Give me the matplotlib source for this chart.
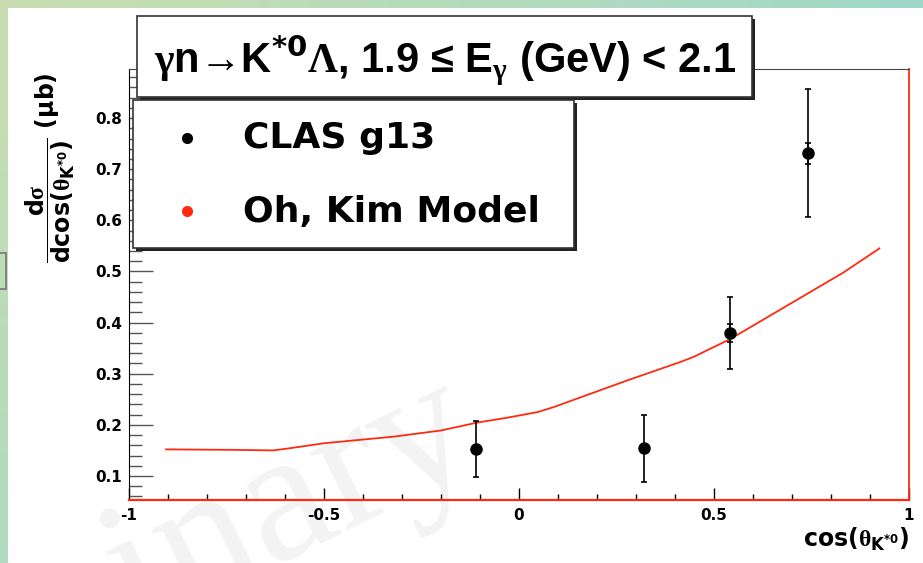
import matplotlib
matplotlib.use("Agg")
import matplotlib.pyplot as plt
from matplotlib.patches import Rectangle
from matplotlib.lines import Line2D
from matplotlib.ticker import MultipleLocator, FormatStrFormatter
import numpy as np

# CLAS g13 data points (cos theta, dsigma/dcos in microbarn)
clas_cos = [-0.11, 0.32, 0.54, 0.74]
clas_xsec = [0.153, 0.154, 0.380, 0.731]
clas_err_tot = [0.055, 0.065, 0.071, 0.125]
clas_err_stat = [0.006, 0.006, 0.018, 0.021]

# Oh, Kim model curve
model_cos = [-0.905, -0.72, -0.63, -0.59, -0.50, -0.32, -0.20, -0.11, -0.03,
             0.048, 0.09, 0.184, 0.278, 0.414, 0.448, 0.542, 0.832, 0.924]
model_xsec = [0.152, 0.151, 0.150, 0.154, 0.164, 0.177, 0.189, 0.204, 0.214,
              0.225, 0.235, 0.261, 0.287, 0.323, 0.333, 0.368, 0.498, 0.545]

x_ticks = [-1, -0.5, 0, 0.5, 1]
x_tick_labels = ["-1", "-0.5", "0", "0.5", "1"]
y_ticks = [0.1, 0.2, 0.3, 0.4, 0.5, 0.6, 0.7, 0.8]

W, H = 923, 563
RED = "#ff2a10"

plt.rcParams['font.family'] = ['DejaVu Sans']
plt.rcParams['font.weight'] = 'bold'
plt.rcParams['mathtext.fontset'] = 'custom'
plt.rcParams['mathtext.rm'] = 'DejaVu Sans:bold'
plt.rcParams['mathtext.bf'] = 'DejaVu Sans:bold'
plt.rcParams['mathtext.sf'] = 'Liberation Serif'
plt.rcParams['mathtext.it'] = 'DejaVu Sans:bold'


def fx(px):
    return px / W


def fy(py):
    return 1 - py / H


fig = plt.figure(figsize=(W / 100, H / 100), dpi=100)
fig.patch.set_facecolor("white")

# slide background strips
top = fig.add_axes([0, fy(8), 1, 8 / H])
top.imshow(np.linspace(0, 1, 256).reshape(1, -1), aspect='auto',
           cmap=matplotlib.colors.LinearSegmentedColormap.from_list("t", ["#cadeb0", "#9fd8c8"]))
top.axis('off')
left = fig.add_axes([0, 0, 8 / W, 1])
left.imshow(np.linspace(0, 1, 256).reshape(-1, 1), aspect='auto',
            cmap=matplotlib.colors.LinearSegmentedColormap.from_list("l", ["#cadeb0", "#b0dac0"]))
left.axis('off')
fig.add_artist(Rectangle((fx(-2), fy(289)), fx(8), 36 / H, transform=fig.transFigure,
                         fill=False, edgecolor="#777777", lw=1.2))

# faint watermark
fig.text(fx(485), fy(460), "Preliminary", rotation=26, rotation_mode='anchor',
         ha='right', va='baseline', fontsize=135, family='Liberation Serif',
         fontweight='normal', color='#f3f3f3', zorder=0)

ax = fig.add_axes([fx(129), fy(500), 780 / W, 431 / H])
ax.set_facecolor('none')
ax.set_zorder(2)

ax.plot(model_cos, model_xsec, color=RED, lw=1.3)
ax.errorbar(clas_cos, clas_xsec, yerr=clas_err_tot, fmt='o', color='black',
            ms=8, capsize=2.5, elinewidth=1.2, capthick=1.2)
ax.errorbar(clas_cos, clas_xsec, yerr=clas_err_stat, fmt='none', color='black',
            capsize=2.5, elinewidth=1.2, capthick=1.2)

ax.set_xlim(-1, 1)
ax.set_ylim(0.053, 0.896)
ax.set_xticks(x_ticks)
ax.set_xticklabels(x_tick_labels)
ax.set_yticks(y_ticks)
ax.xaxis.set_minor_locator(MultipleLocator(0.1))
ax.yaxis.set_minor_locator(MultipleLocator(0.02))
ax.yaxis.set_major_formatter(FormatStrFormatter('%.1f'))
ax.tick_params(axis='x', which='major', direction='in', length=8.6, width=1, labelsize=11, pad=6)
ax.tick_params(axis='x', which='minor', direction='in', length=4.3, width=1)
ax.tick_params(axis='y', which='major', direction='in', length=17, width=1, labelsize=11, pad=5, color='#555555')
ax.tick_params(axis='y', which='minor', direction='in', length=9, width=1, color='#555555')
ax.spines['left'].set_color('black')
ax.spines['bottom'].set_color(RED)
ax.spines['bottom'].set_linewidth(1.6)
ax.spines['right'].set_color(RED)
ax.spines['right'].set_linewidth(1.3)
ax.spines['top'].set_color('#444444')

# axis titles
fig.text(fx(910), fy(547), r"cos($\mathsf{\theta}_{\mathrm{K}^{*0}}$)", ha='right', va='baseline',
         fontsize=17)
fig.text(fx(50), fy(168),
         r"$\dfrac{\mathrm{d}\mathsf{\sigma}}{\mathrm{dcos}(\mathsf{\theta}_{\mathrm{K}^{*0}})}$ (μb)",
         rotation=90, ha='center', va='center', fontsize=17)


def box(x0, y0, x1, y1, z):
    fig.add_artist(Rectangle((fx(x0 + 3), fy(y1 + 3)), fx(x1 - x0), (y1 - y0) / H,
                             transform=fig.transFigure, facecolor='#222222',
                             edgecolor='none', zorder=z))
    fig.add_artist(Rectangle((fx(x0), fy(y1)), fx(x1 - x0), (y1 - y0) / H,
                             transform=fig.transFigure, facecolor='white',
                             edgecolor='#333333', lw=1.2, zorder=z + 0.1))


# title box
box(137, 16, 752, 97, 5)
fig.text(fx(445), fy(73), r"$\mathsf{\gamma}$n→K$^{*0}$$\mathsf{\Lambda}$, 1.9 ≤ E$_{\mathsf{\gamma}}$ (GeV) < 2.1",
         ha='center', va='baseline', fontsize=30, family=['Liberation Sans', 'DejaVu Sans'], zorder=6)

# legend box
box(133, 100, 574, 248, 7)
fig.add_artist(Line2D([fx(187)], [fy(138)], marker='o', ms=7, color='black',
                      transform=fig.transFigure, zorder=8))
fig.add_artist(Line2D([fx(187)], [fy(211)], marker='o', ms=7, color=RED,
                      transform=fig.transFigure, zorder=8))
fig.text(fx(243), fy(148), "CLAS g13", ha='left', va='baseline', fontsize=26, zorder=8)
fig.text(fx(243), fy(222), "Oh, Kim Model", ha='left', va='baseline', fontsize=26, zorder=8)

fig.savefig("out.png", dpi=100)
